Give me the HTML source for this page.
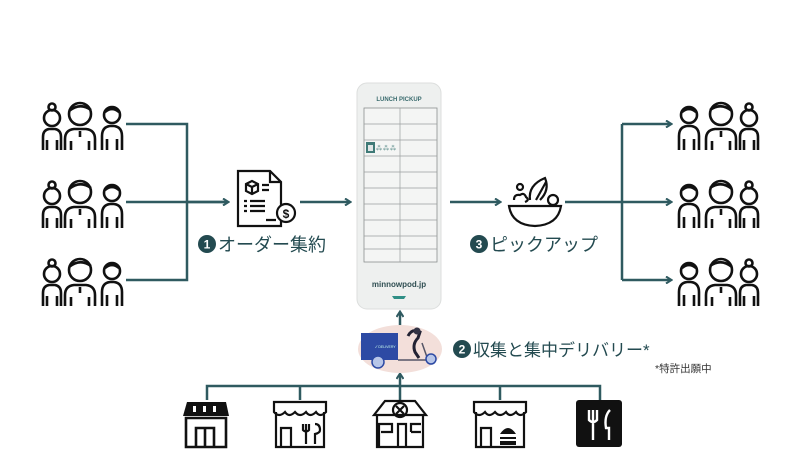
<!DOCTYPE html>
<html><head><meta charset="utf-8"><style>
html,body{margin:0;padding:0;background:#fff;}
svg{display:block;}
text{font-family:"Liberation Sans","Noto Sans CJK JP",sans-serif;}
</style></head><body>
<svg width="800" height="451" viewBox="0 0 800 451" xmlns="http://www.w3.org/2000/svg">
<defs>
<marker id="ah" markerWidth="8" markerHeight="8" refX="6" refY="4" orient="auto" markerUnits="userSpaceOnUse">
<path d="M1,0.5 L6.5,4 L1,7.5" fill="none" stroke="#2f5a60" stroke-width="2"/>
</marker>
<g id="grp" fill="none" stroke="#111" stroke-width="2.6" stroke-linejoin="round">
<circle cx="10" cy="15" r="8"/>
<path d="M3,12 Q10,6 17,12"/>
<path d="M0,50 V36 Q0,27 8,26 H12 Q20,27 20,36 V50 M5,39 V50 M15,39 V50"/>
<circle cx="42" cy="14" r="11"/>
<path d="M31,10 Q42,2 53,11"/>
<path d="M27,50 V39 Q27,30 36,29 H48 Q57,30 57,39 V50 M33,41 V50 M51,41 V50 M42,31 V37"/>
<circle cx="70" cy="18" r="8"/>
<circle cx="70" cy="7" r="3.5"/>
<path d="M61,50 V37 Q61,30 67,29 H73 Q79,30 79,37 V50 M65,40 V50 M75,40 V50"/>
</g>
</defs>
<rect width="800" height="451" fill="#fff"/>

<use href="#grp" transform="translate(122,100) scale(-1,1)"/>
<use href="#grp" transform="translate(122,178) scale(-1,1)"/>
<use href="#grp" transform="translate(122,256) scale(-1,1)"/>
<use href="#grp" transform="translate(679,100)"/>
<use href="#grp" transform="translate(679,178)"/>
<use href="#grp" transform="translate(679,256)"/>

<g stroke="#2f5a60" stroke-width="2.5" fill="none">
<path d="M126,124 H187 V280 H126 M126,202 H228"/>
<path d="M300,202 H350" marker-end="url(#ah)"/>
<path d="M450,202 H500" marker-end="url(#ah)"/>
<path d="M565,202 H622 M622,124 V280"/>
<path d="M622,124 H671" marker-end="url(#ah)"/>
<path d="M622,202 H671" marker-end="url(#ah)"/>
<path d="M622,280 H671" marker-end="url(#ah)"/>
<path d="M187,202 H228" marker-end="url(#ah)"/>
<path d="M400,326 V312" marker-end="url(#ah)"/>
<path d="M400,386 V374" marker-end="url(#ah)"/>
<path d="M207,400 V386 H600 V400 M300,386 V400 M500,386 V400 M400,386 V400"/>
</g>

<g fill="none" stroke="#111" stroke-width="2.2">
<path d="M238,171 H270 L281,182 V226 H238 Z M270,171 V182 H281"/>
<path d="M246,184 l6,-3 l6,3 v7 l-6,3 l-6,-3 z M246,184 l6,3 l6,-3 M252,187 v7"/>
<path d="M262,185 h7 M262,190 h7 M244,201 h3 M250,201 h15 M244,206 h3 M250,206 h15 M244,211 h3 M250,211 h15 M266,220 h10"/>
</g>
<circle cx="286" cy="213" r="9" fill="#fff" stroke="#111" stroke-width="2.2"/>
<text x="286" y="218" font-size="12" font-weight="bold" text-anchor="middle" fill="#111">$</text>

<g fill="none" stroke="#111" stroke-width="2.2">
<path d="M509,206 H561 Q558,225 535,226 Q512,225 509,206 Z"/>
<path d="M530,200 Q528,185 545,178 Q550,190 540,200 M536,200 L546,182"/>
<circle cx="553" cy="200" r="5"/>
<path d="M514,200 q0,-6 6,-5 q4,-3 6,2 q4,3 -1,5"/>
<circle cx="520" cy="187" r="3"/>
</g>

<rect x="357" y="83" width="84" height="226" rx="10" fill="#eef0ef" stroke="#dcdedd"/>
<text x="399" y="101" font-size="6" fill="#3a6b6e" text-anchor="middle" font-weight="bold">LUNCH PICKUP</text>
<rect x="364" y="108" width="73" height="154" fill="#f4f5f4" stroke="#8a8f8f" stroke-width="0.8"/>
<g stroke="#9a9f9f" stroke-width="0.7">
<path d="M400,108 V262"/>
<path d="M364,124 H437 M364,140 H437 M364,156 H437 M364,172 H437 M364,188 H437 M364,204 H437 M364,220 H437 M364,236 H437 M364,249 H437"/>
</g>
<rect x="366" y="142" width="9" height="11" fill="#3f7a77"/>
<rect x="368" y="145" width="5" height="6" fill="#e0e6e6"/>
<text x="386" y="150" font-size="7" fill="#3f7a77" text-anchor="middle">⁂⁂⁂</text>
<text x="399" y="287" font-size="8" fill="#2f4e52" text-anchor="middle" font-weight="bold">minnowpod.jp</text>
<path d="M392,296 H406 L404,299 H394 Z" fill="#2f8f86"/>

<ellipse cx="400" cy="349" rx="42" ry="24" fill="#f3dfda"/>
<rect x="361" y="333" width="37" height="27" fill="#2d4aa4"/>
<text x="375" y="348" font-size="3.5" fill="#cfe">✓ DELIVERY</text>
<path d="M398,360 H428 L422,343" fill="none" stroke="#556" stroke-width="1.5"/>
<path d="M408,336 q4,-8 12,-4 l-2,6 q-6,6 -3,14 l4,6" fill="none" stroke="#223" stroke-width="3"/>
<circle cx="417" cy="331" r="3.5" fill="#334"/>
<circle cx="378" cy="362" r="6" fill="#b8c6e8" stroke="#2d4aa4" stroke-width="1.5"/>
<circle cx="431" cy="359" r="5" fill="#b8c6e8" stroke="#2d4aa4" stroke-width="1.5"/>

<g fill="#234a50">
<circle cx="207" cy="244" r="9"/>
<circle cx="479" cy="244" r="9"/>
<circle cx="462" cy="349" r="9"/>
</g>
<g fill="#fff" font-size="12" font-weight="bold" text-anchor="middle">
<text x="207" y="248.5">1</text><text x="479" y="248.5">3</text><text x="462" y="353.5">2</text>
</g>
<g fill="#234a50" font-size="18">
<text x="218" y="251">オーダー集約</text>
<text x="490" y="251">ピックアップ</text>
</g>
<text x="473" y="356" font-size="17" fill="#234a50">収集と集中デリバリー*</text>
<text x="655" y="372" font-size="10.5" fill="#333">*特許出願中</text>

<g fill="none" stroke="#111" stroke-width="2.6">
<path d="M186,447 V418 H226 V447 Z M196,447 V428 H214 V447 M205,428 V447"/>
</g>
<path d="M187,402 H226 L229,416 H183 Z" fill="#111"/>
<g fill="#fff"><rect x="193" y="406" width="3" height="6"/><rect x="203" y="406" width="3" height="6"/><rect x="213" y="406" width="3" height="6"/></g>
<g fill="none" stroke="#111" stroke-width="2.2">
<path d="M274,402 H326 V412 q-6,6 -10,0 q-6,6 -10,0 q-6,6 -11,0 q-6,6 -10,0 q-6,6 -11,0 Z M276,412 V447 H324 V412 M281,447 V428 H291 V447"/>
<path d="M303,424 v6 q3,3 6,0 v-6 M306,424 v20"/>
<path d="M315,424 q5,0 5,6 q0,3 -5,4 v10"/>
<path d="M374,415 L385,401 H415 L426,415 Z M377,415 V447 H423 V415 M379,446 V424 H392 V432 H381 M398,446 V424 H406 V446 M411,432 V424 H421 M411,432 H421"/>
<circle cx="400" cy="410" r="7"/>
<path d="M396,406 l8,8 M404,406 l-8,8"/>
<path d="M474,402 H526 V412 q-6,6 -10,0 q-6,6 -10,0 q-6,6 -11,0 q-6,6 -10,0 q-6,6 -11,0 Z M476,412 V447 H524 V412 M481,447 V428 H491 V447"/>
</g>
<path d="M500,434 q8,-12 16,0 Z M500,437 h16 v2 h-16 Z M500,441 h16 v4 h-16 Z" fill="#111"/>
<rect x="576" y="400" width="46" height="47" rx="3" fill="#111"/>
<g stroke="#fff" stroke-width="2.4" fill="none">
<path d="M589,410 v10 q4,4 8,0 v-10 M593,410 v30"/>
<path d="M610,410 q-6,6 -4,18 h3 v12"/>
</g>
</svg>
</body></html>
